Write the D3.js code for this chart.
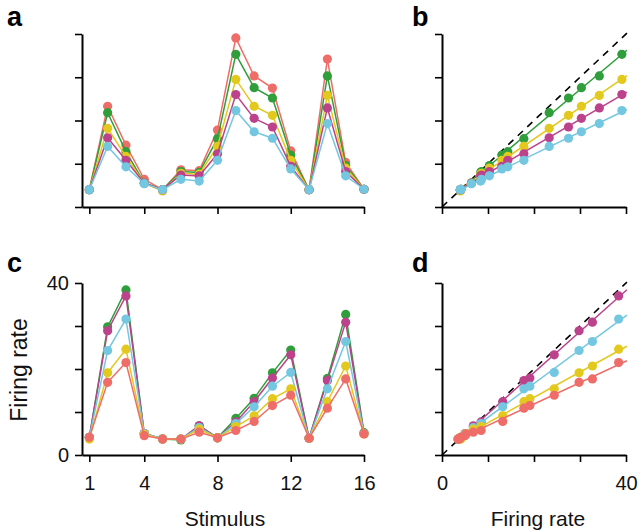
<!DOCTYPE html>
<html><head><meta charset="utf-8">
<script src="https://cdn.jsdelivr.net/npm/d3@7"></script>
<style>body{margin:0;background:#fff}svg{display:block}</style>
</head><body>
<script>
const stimuli = d3.range(1, 17);
const xTicksStim = [1, 4, 8, 12, 16];
const rateTicks = [0, 10, 20, 30, 40];
const rateTickLabels = ["0", "", "", "", "40"];

// Panel a series
const redA     = [4.0, 23.3, 14.3, 6.4, 4.0, 8.6, 8.4, 17.8, 39.1, 30.3, 27.5, 13.0, 4.0, 34.2, 10.3, 4.1];
const greenA   = [4.0, 21.8, 12.8, 5.6, 4.0, 8.2, 8.0, 15.8, 35.3, 27.6, 25.2, 12.0, 4.0, 30.3, 9.6, 4.1];
const yellowA  = [4.0, 18.2, 11.7, 5.5, 3.7, 7.8, 7.6, 14.0, 29.5, 23.3, 21.2, 10.8, 4.0, 25.8, 9.0, 4.1];
const magentaA = [4.0, 16.0, 10.8, 5.5, 4.0, 7.4, 7.2, 12.3, 26.0, 20.5, 18.5, 9.4, 4.0, 22.9, 8.2, 4.1];
const cyanA    = [4.0, 14.0, 9.3, 5.4, 4.0, 6.4, 6.0, 10.8, 22.3, 17.4, 15.9, 8.8, 4.0, 19.3, 7.2, 4.1];

// Panel c series
const greenC   = [4.1, 29.8, 38.4, 5.0, 3.7, 3.5, 6.8, 4.0, 8.5, 13.2, 19.1, 24.4, 3.9, 17.8, 32.7, 5.2];
const magentaC = [4.1, 28.9, 37.0, 5.0, 3.7, 3.7, 6.8, 4.0, 7.7, 12.4, 17.9, 23.3, 3.9, 17.3, 30.9, 5.0];
const cyanC    = [4.1, 24.3, 31.6, 5.0, 3.7, 3.7, 6.4, 4.0, 7.3, 11.2, 16.0, 19.2, 3.9, 15.4, 26.4, 5.0];
const yellowC  = [3.7, 19.1, 24.6, 4.8, 3.7, 3.7, 6.0, 4.0, 6.6, 9.1, 13.1, 15.4, 3.9, 12.4, 20.7, 4.9];
const redC     = [4.1, 16.9, 21.5, 4.5, 3.7, 3.7, 5.3, 4.0, 5.7, 7.8, 11.5, 13.9, 3.9, 10.9, 17.7, 4.9];

const C = {red:"#ef6d68", green:"#2f9e3b", yellow:"#e3c81e", magenta:"#bb428b", cyan:"#74c7e0"};
const FONT = "'Liberation Sans', Arial, Helvetica, sans-serif";

const svg = d3.select("body").append("svg").attr("width", 640).attr("height", 531)
  .style("font-family", FONT);

function styleAxis(g){
  g.selectAll("path.domain").attr("stroke", "#000").attr("stroke-width", 2);
  g.selectAll(".tick line").attr("stroke", "#000").attr("stroke-width", 1.6);
  g.selectAll(".tick text").attr("fill", "#111").style("font-size", "20px").style("font-family", FONT);
}

function stimPanel(top, bottom, series, showLabels){
  const x = d3.scaleLinear().domain([0.6, 16]).range([82, 364]);
  const y = d3.scaleLinear().domain([0, 40]).range([bottom, top]);
  const gx = svg.append("g").attr("transform", `translate(0,${bottom})`)
    .call(d3.axisBottom(x).tickValues(xTicksStim).tickSize(7).tickSizeOuter(0).tickPadding(14)
      .tickFormat(showLabels ? d3.format("d") : () => ""));
  styleAxis(gx);
  const gy = svg.append("g").attr("transform", `translate(82,0)`)
    .call(d3.axisLeft(y).tickValues(rateTicks).tickSize(7).tickSizeOuter(0).tickPadding(6)
      .tickFormat((d,i) => showLabels ? rateTickLabels[i] : ""));
  styleAxis(gy);
  const line = d3.line().x((d,i) => x(stimuli[i])).y(d => y(d));
  series.forEach(([vals, col]) => {
    svg.append("path").datum(vals).attr("d", line).attr("fill", "none")
      .attr("stroke", col).attr("stroke-width", 1.5);
    svg.append("g").selectAll("circle").data(vals).join("circle")
      .attr("cx", (d,i) => x(stimuli[i])).attr("cy", d => y(d)).attr("r", 4.6).attr("fill", col);
  });
}

function fit(xs, ys){
  const mx = d3.mean(xs), my = d3.mean(ys);
  let sxy = 0, sxx = 0;
  xs.forEach((v,i) => { sxy += (v-mx)*(ys[i]-my); sxx += (v-mx)*(v-mx); });
  const b = sxy/sxx; return [my - b*mx, b];
}

function scatterPanel(top, bottom, xs, series, showLabels){
  const x = d3.scaleLinear().domain([0, 40]).range([442, 626]);
  const y = d3.scaleLinear().domain([0, 40]).range([bottom, top]);
  const gx = svg.append("g").attr("transform", `translate(0,${bottom})`)
    .call(d3.axisBottom(x).tickValues(rateTicks).tickSize(7).tickSizeOuter(0).tickPadding(14)
      .tickFormat((d,i) => showLabels ? rateTickLabels[i] : ""));
  styleAxis(gx);
  const gy = svg.append("g").attr("transform", `translate(442,0)`)
    .call(d3.axisLeft(y).tickValues(rateTicks).tickSize(7).tickSizeOuter(0).tickFormat(() => ""));
  styleAxis(gy);
  svg.append("line").attr("x1", x(0)).attr("y1", y(0)).attr("x2", x(40.2)).attr("y2", y(40.2))
    .attr("stroke", "#000").attr("stroke-width", 1.6).attr("stroke-dasharray", "7,6");
  const x0 = d3.min(xs), x1 = 40.2;
  series.forEach(([vals, col]) => {
    const [a, b] = fit(xs, vals);
    svg.append("line").attr("x1", x(x0)).attr("y1", y(a + b*x0)).attr("x2", x(x1)).attr("y2", y(a + b*x1))
      .attr("stroke", col).attr("stroke-width", 1.5);
    svg.append("g").selectAll("circle").data(vals).join("circle")
      .attr("cx", (d,i) => x(xs[i])).attr("cy", d => y(d)).attr("r", 4.6).attr("fill", col);
  });
}

stimPanel(34, 207, [[redA, C.red], [greenA, C.green], [yellowA, C.yellow], [magentaA, C.magenta], [cyanA, C.cyan]], false);
scatterPanel(34, 207, redA, [[greenA, C.green], [yellowA, C.yellow], [magentaA, C.magenta], [cyanA, C.cyan]], false);
stimPanel(283, 455, [[greenC, C.green], [magentaC, C.magenta], [cyanC, C.cyan], [yellowC, C.yellow], [redC, C.red]], true);
scatterPanel(283, 455, greenC, [[magentaC, C.magenta], [cyanC, C.cyan], [yellowC, C.yellow], [redC, C.red]], true);

// Panel letters
[["a", 7, 26], ["b", 412, 26], ["c", 7, 272], ["d", 412, 272]].forEach(([t, px, py]) => {
  svg.append("text").attr("x", px).attr("y", py).text(t)
    .style("font-size", "27px").style("font-weight", "bold").attr("fill", "#000");
});

// Axis titles
svg.append("text").attr("x", 225).attr("y", 526).attr("text-anchor", "middle")
  .style("font-size", "21px").attr("fill", "#111").text("Stimulus");
svg.append("text").attr("x", 538).attr("y", 526).attr("text-anchor", "middle")
  .style("font-size", "21px").attr("fill", "#111").text("Firing rate");
svg.append("text").attr("transform", "translate(27,370) rotate(-90)").attr("text-anchor", "middle")
  .style("font-size", "23px").attr("fill", "#111").text("Firing rate");
</script>
</body></html>
